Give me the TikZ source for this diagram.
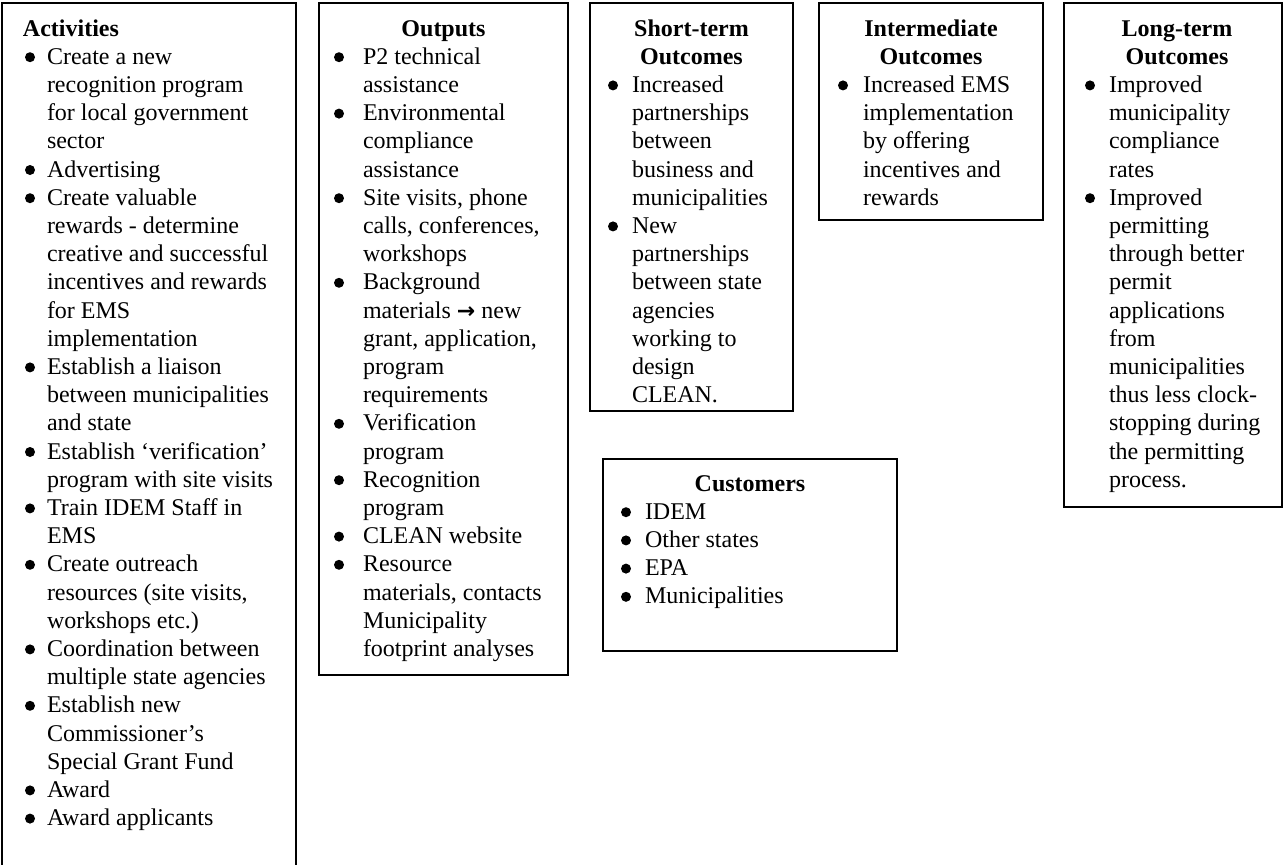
\documentclass[tikz,border=0pt]{standalone}
\usepackage{fontspec}
\setmainfont{Liberation Serif}
\newfontfamily\arrowfont{DejaVu Sans}
\newlength{\bgap}
\newcommand\bdot{\raisebox{1.0pt}{\tikz\fill[black] (0,0) circle (2.5pt);}}
\newcommand\bl{\leavevmode\llap{\makebox[\bgap][l]{\bdot}}}
\newcommand\rarr{{\arrowfont\bfseries\fontsize{11}{12}\selectfont →}}
\newcommand\bodytext[2]{\parbox[t]{300pt}{\fontsize{12}{14.1}\selectfont\setlength{\bgap}{#1}#2}}
\newcommand\titletext[1]{\parbox[t]{110pt}{\centering\fontsize{12}{14.1}\selectfont\bfseries #1}}
\begin{document}
\begin{tikzpicture}[x=0.5pt,y=-0.5pt,
  every node/.style={inner sep=0pt, outer sep=0pt, font=\fontsize{12}{14.1}\selectfont},
  frame/.style={draw=black, line width=1pt},
  body/.style={anchor=base west},
  ttl/.style={anchor=base}]
\useasboundingbox (0,0) rectangle (1285,864);
\fill[white] (0,0) rectangle (1285,864);
% frames
\draw[frame] (1.5,880) -- (1.5,3) -- (296,3) -- (296,880);
\draw[frame] (319,3) rectangle (568,675);
\draw[frame] (590,3) rectangle (793,411);
\draw[frame] (819,3) rectangle (1043,220);
\draw[frame] (1064,3) rectangle (1282,507);
\draw[frame] (603,459) rectangle (897,651);
% Activities
\node[anchor=base west] (acttitle) at (23,36) {\textbf{Activities}};
\node[body] (actbody) at (47,64.2) {\bodytext{11pt}{%
\bl Create a new\\
recognition program\\
for local government\\
sector\\
\bl Advertising\\
\bl Create valuable\\
rewards - determine\\
creative and successful\\
incentives and rewards\\
for EMS\\
implementation\\
\bl Establish a liaison\\
between municipalities\\
and state\\
\bl Establish ‘verification’\\
program with site visits\\
\bl Train IDEM Staff in\\
EMS\\
\bl Create outreach\\
resources (site visits,\\
workshops etc.)\\
\bl Coordination between\\
multiple state agencies\\
\bl Establish new\\
Commissioner’s\\
Special Grant Fund\\
\bl Award\\
\bl Award applicants}};
% Outputs
\node[ttl] (outtitle) at (443.5,36) {\titletext{Outputs}};
\node[body] (outbody) at (363,64.2) {\bodytext{14.5pt}{%
\bl P2 technical\\
assistance\\
\bl Environmental\\
compliance\\
assistance\\
\bl Site visits, phone\\
calls, conferences,\\
workshops\\
\bl Background\\
materials \rarr{} new\\
grant, application,\\
program\\
requirements\\
\bl Verification\\
program\\
\bl Recognition\\
program\\
\bl CLEAN website\\
\bl Resource\\
materials, contacts\\
Municipality\\
footprint analyses}};
% Short-term
\node[ttl] (sttitle) at (691.5,36) {\titletext{Short-term\\Outcomes}};
\node[body] (stbody) at (632,92.4) {\bodytext{12pt}{%
\bl Increased\\
partnerships\\
between\\
business and\\
municipalities\\
\bl New\\
partnerships\\
between state\\
agencies\\
working to\\
design\\
CLEAN.}};
% Intermediate
\node[ttl] (imtitle) at (931,36) {\titletext{Intermediate\\Outcomes}};
\node[body] (imbody) at (863,92.4) {\bodytext{12.5pt}{%
\bl Increased EMS\\
implementation\\
by offering\\
incentives and\\
rewards}};
% Long-term
\node[ttl] (lttitle) at (1177,36) {\titletext{Long-term\\Outcomes}};
\node[body] (ltbody) at (1109,92.4) {\bodytext{12pt}{%
\bl Improved\\
municipality\\
compliance\\
rates\\
\bl Improved\\
permitting\\
through better\\
permit\\
applications\\
from\\
municipalities\\
thus less clock-\\
stopping during\\
the permitting\\
process.}};
% Customers
\node[ttl] (cutitle) at (750,491) {\titletext{Customers}};
\node[body] (cubody) at (645,519.2) {\bodytext{12pt}{%
\bl IDEM\\
\bl Other states\\
\bl EPA\\
\bl Municipalities}};
\end{tikzpicture}
\end{document}
